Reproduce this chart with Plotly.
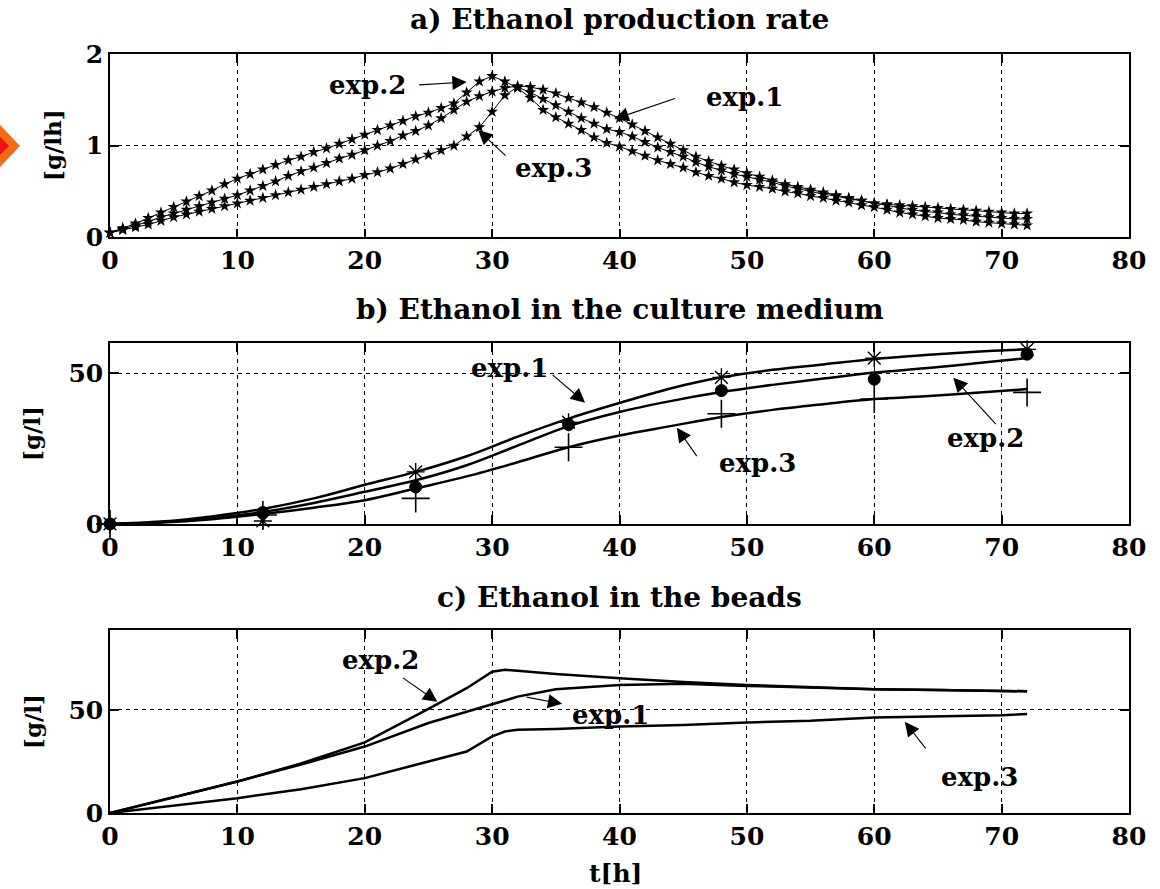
import plotly.graph_objects as go
from plotly.subplots import make_subplots

# ---------------- data ----------------
# a) Ethanol production rate [g/lh], hourly samples
t_rate = list(range(73))
rate_exp1 = [0.05, 0.09, 0.13, 0.17, 0.22, 0.26, 0.30, 0.34, 0.38, 0.42,
             0.46, 0.51, 0.56, 0.61, 0.67, 0.72, 0.76, 0.81, 0.86, 0.90,
             0.95, 1.00, 1.05, 1.11, 1.16, 1.22, 1.30, 1.39, 1.48, 1.54,
             1.59, 1.63, 1.65, 1.64, 1.61, 1.57, 1.52, 1.47, 1.42, 1.36,
             1.30, 1.23, 1.16, 1.09, 1.02, 0.95, 0.88, 0.83, 0.78, 0.74,
             0.70, 0.66, 0.62, 0.58, 0.55, 0.52, 0.49, 0.46, 0.43, 0.40,
             0.37, 0.36, 0.35, 0.34, 0.33, 0.32, 0.31, 0.30, 0.29, 0.28,
             0.27, 0.26, 0.26]
rate_exp2 = [0.05, 0.10, 0.15, 0.21, 0.27, 0.33, 0.39, 0.45, 0.51, 0.58,
             0.64, 0.69, 0.74, 0.79, 0.84, 0.88, 0.93, 0.97, 1.02, 1.07,
             1.12, 1.17, 1.22, 1.27, 1.32, 1.36, 1.41, 1.46, 1.58, 1.70,
             1.76, 1.70, 1.63, 1.52, 1.39, 1.31, 1.24, 1.17, 1.09, 1.03,
             0.99, 0.94, 0.89, 0.84, 0.80, 0.76, 0.71, 0.67, 0.64, 0.60,
             0.57, 0.55, 0.53, 0.50, 0.48, 0.45, 0.43, 0.40, 0.38, 0.35,
             0.33, 0.30, 0.27, 0.25, 0.23, 0.21, 0.20, 0.19, 0.17, 0.16,
             0.15, 0.14, 0.13]
rate_exp3 = [0.05, 0.08, 0.11, 0.14, 0.18, 0.22, 0.25, 0.28, 0.31, 0.34,
             0.37, 0.40, 0.43, 0.46, 0.49, 0.52, 0.55, 0.58, 0.61, 0.64,
             0.68, 0.71, 0.75, 0.80, 0.85, 0.90, 0.95, 1.00, 1.10, 1.20,
             1.37, 1.55, 1.64, 1.58, 1.51, 1.44, 1.37, 1.30, 1.24, 1.18,
             1.15, 1.10, 1.04, 0.98, 0.93, 0.88, 0.82, 0.77, 0.73, 0.69,
             0.66, 0.63, 0.60, 0.56, 0.53, 0.50, 0.47, 0.45, 0.42, 0.40,
             0.37, 0.35, 0.32, 0.30, 0.28, 0.27, 0.25, 0.24, 0.23, 0.22,
             0.21, 0.20, 0.20]

# b) Ethanol in the culture medium [g/l]
t_medium = [0, 4, 8, 12, 16, 20, 24, 28, 32, 36, 40, 44, 48, 52, 56, 60, 64, 68, 72]
medium_exp1 = [0, 0.8, 2.5, 5.0, 8.5, 13.0, 17.3, 22.5, 29.0, 35.0,
               40.2, 45.0, 48.7, 51.2, 53.0, 54.8, 56.1, 57.2, 58.0]
medium_exp2 = [0, 0.6, 2.0, 4.0, 7.0, 10.7, 14.5, 19.5, 26.0, 32.5,
               37.2, 40.8, 43.8, 46.2, 48.3, 50.3, 51.7, 53.4, 55.1]
medium_exp3 = [0, 0.5, 1.6, 3.3, 5.4, 7.9, 11.8, 15.8, 20.5, 25.5,
               29.4, 32.5, 35.5, 37.9, 39.8, 41.5, 42.4, 43.6, 44.8]
t_meas = [0, 12, 24, 36, 48, 60, 72]
meas_exp1 = [0, 1.0, 17.3, 33.8, 48.7, 55.1, 58.0]
meas_exp2 = [0, 3.8, 12.3, 33.0, 44.3, 48.1, 56.4]
meas_exp3 = [0, 3.0, 8.5, 25.5, 36.6, 41.5, 43.7]

# c) Ethanol in the beads [g/l]
t_beads = [0, 5, 10, 15, 20, 25, 28, 30, 31, 32, 35, 40, 45, 50, 55, 60, 65, 70, 72]
beads_exp1 = [0, 7.8, 15.3, 23.5, 32.2, 43.6, 49.0, 52.4, 54.5, 56.4,
              60.0, 62.1, 62.6, 61.6, 60.8, 60.0, 59.6, 59.2, 59.0]
beads_exp2 = [0, 7.8, 15.3, 24.0, 34.2, 50.5, 60.5, 68.5, 69.4, 69.0,
              67.4, 65.3, 63.5, 62.1, 61.0, 60.0, 59.6, 59.2, 59.0]
beads_exp3 = [0, 3.5, 7.2, 11.5, 16.9, 25.0, 29.8, 37.1, 39.5, 40.3,
              40.7, 41.9, 42.7, 43.9, 44.7, 46.3, 46.8, 47.4, 48.0]

x_ticks = [0, 10, 20, 30, 40, 50, 60, 70, 80]
titles = ["a) Ethanol production rate", "b) Ethanol in the culture medium",
          "c) Ethanol in the beads"]
y_titles = ["[g/lh]", "[g/l]", "[g/l]"]
x_title = "t[h]"

# ---------------- figure ----------------
FONT = "DejaVu Serif"
fig = make_subplots(rows=3, cols=1)

for ys in [rate_exp1, rate_exp2, rate_exp3]:
    fig.add_trace(go.Scatter(x=t_rate, y=ys, mode="lines+markers",
                             line=dict(color="black", width=1),
                             marker=dict(symbol="star", size=9, color="black"),
                             cliponaxis=False, showlegend=False), row=1, col=1)

for ys in [medium_exp1, medium_exp2, medium_exp3]:
    fig.add_trace(go.Scatter(x=t_medium, y=ys, mode="lines",
                             line=dict(color="black", width=2.5, shape="spline"),
                             showlegend=False), row=2, col=1)

meas_style = [("asterisk-open", 15, 1.4), ("circle", 12, 1), ("cross-thin-open", 20, 1.6)]
for ys, (sym, sz, lw) in zip([meas_exp1, meas_exp2, meas_exp3], meas_style):
    fig.add_trace(go.Scatter(x=t_meas, y=ys, mode="markers",
                             marker=dict(symbol=sym, size=sz, color="black",
                                         line=dict(color="black", width=lw)),
                             cliponaxis=False, showlegend=False), row=2, col=1)

for ys in [beads_exp1, beads_exp2, beads_exp3]:
    fig.add_trace(go.Scatter(x=t_beads, y=ys, mode="lines",
                             line=dict(color="black", width=2.5),
                             showlegend=False), row=3, col=1)

tickfont = dict(family=FONT, size=25, color="black", weight="bold")
axis_common = dict(showline=True, linecolor="black", linewidth=1.5, mirror="ticks",
                   ticks="inside", ticklen=9, tickwidth=1.5, tickcolor="black",
                   showgrid=True, gridcolor="black", gridwidth=1, griddash="4px,4px",
                   zeroline=False, tickfont=tickfont)

domains = [[0.7585, 1.0], [0.3808, 0.6188], [0.0, 0.2411]]
y_ranges = [[0, 2], [0, 60], [0, 88.7]]
y_tickvals = [[0, 1, 2], [0, 50], [0, 50]]
for i in range(3):
    fig.update_xaxes(range=[0, 80], tickvals=x_ticks, row=i + 1, col=1, **axis_common)
    fig.update_yaxes(range=y_ranges[i], tickvals=y_tickvals[i], domain=domains[i],
                     row=i + 1, col=1, **axis_common)

annos = []
title_y_px = [20, 309, 597]
for txt, ypx in zip(titles, title_y_px):
    annos.append(dict(text=txt, xref="paper", yref="paper", x=0.5,
                      y=(813 - ypx) / 759, showarrow=False, xanchor="center",
                      yanchor="middle", font=dict(family=FONT, size=28, color="black",
                                                  weight="bold")))
ytitle_pos = [(52, 145), (32, 434), (32, 722)]
for txt, (xp, yp) in zip(y_titles, ytitle_pos):
    annos.append(dict(text=txt, xref="paper", yref="paper", x=(xp - 110) / 1019,
                      y=(813 - yp) / 759, textangle=-90, showarrow=False,
                      xanchor="center", yanchor="middle",
                      font=dict(family=FONT, size=23, color="black", weight="bold")))
annos.append(dict(text=x_title, xref="paper", yref="paper", x=(615 - 110) / 1019,
                  y=(813 - 873) / 759, showarrow=False, xanchor="center", yanchor="middle",
                  font=dict(family=FONT, size=25, color="black", weight="bold")))

labels = [
    ("", "exp.2", 20.2, 1.66), ("", "exp.1", 49.8, 1.53), ("", "exp.3", 34.8, 0.756),
    ("2", "exp.1", 31.4, 51.9), ("2", "exp.3", 50.8, 20.2), ("2", "exp.2", 68.7, 28.4),
    ("3", "exp.2", 21.2, 74.2), ("3", "exp.1", 39.3, 47.6), ("3", "exp.3", 68.3, 17.6),
]
for ax, txt, tx, ty in labels:
    annos.append(dict(text=txt, xref="x" + ax, yref="y" + ax, x=tx, y=ty, showarrow=False,
                      xanchor="center", yanchor="middle",
                      font=dict(family=FONT, size=26, color="black", weight="bold")))
arrows = [
    ("", 28.0, 1.695, -49, 3), ("", 39.6, 1.29, 62, -21), ("", 28.9, 1.17, 29, 27),
    ("2", 37.3, 40.3, -34, -29), ("2", 44.5, 32.0, 21, 30), ("2", 66.2, 48.6, 44, 48),
    ("3", 25.7, 53.9, -36, -25), ("3", 35.5, 52.9, -37, -7), ("3", 62.4, 44.2, 22, 28),
]
for ax, hx, hy, dx, dy in arrows:
    annos.append(dict(text="", xref="x" + ax, yref="y" + ax, x=hx, y=hy, ax=dx, ay=dy,
                      showarrow=True, arrowhead=2, arrowsize=2.6, arrowwidth=1.1,
                      arrowcolor="black", standoff=0, startstandoff=0))

fig.update_layout(
    width=1160, height=889,
    margin=dict(l=110, r=31, t=54, b=76),
    paper_bgcolor="white", plot_bgcolor="white",
    annotations=annos,
    shapes=[
        dict(type="path", xref="paper", yref="paper", xsizemode="pixel", ysizemode="pixel",
             xanchor=(0 - 110) / 1019, yanchor=(813 - 146) / 759,
             path="M -20 0 L 0 21 L 20 0 L 0 -21 Z", fillcolor="#F26B12",
             line=dict(width=0)),
        dict(type="path", xref="paper", yref="paper", xsizemode="pixel", ysizemode="pixel",
             xanchor=(0 - 110) / 1019, yanchor=(813 - 146) / 759,
             path="M -9 0 L 0 9 L 9 0 L 0 -9 Z", fillcolor="#E8141A",
             line=dict(width=0)),
    ],
)

fig.write_html("out.html")
